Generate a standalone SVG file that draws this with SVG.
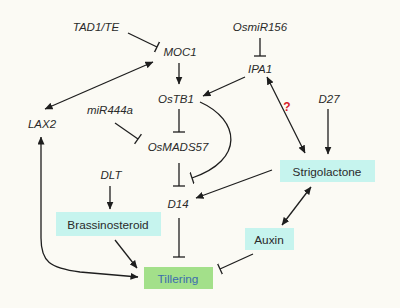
<svg xmlns="http://www.w3.org/2000/svg" width="400" height="308" viewBox="0 0 400 308">
<style>
.lbl{font-family:"Liberation Sans",Arial,sans-serif;font-size:11.5px;font-style:italic;fill:#2a2a2a;text-anchor:middle}
.box{fill:#c6f4ee}
.btxt{font-family:"Liberation Sans",Arial,sans-serif;font-size:11.8px;fill:#2a2a2a;text-anchor:middle}
.c{fill:none;stroke:#1e1e1e;stroke-width:1.3}
.arr{marker-end:url(#ah)}
.dbl{marker-end:url(#ah);marker-start:url(#ah)}
.inh{marker-end:url(#bar)}
</style>
<defs>
<marker id="ah" markerUnits="userSpaceOnUse" markerWidth="8" markerHeight="7" viewBox="0 0 8 7" refX="7.5" refY="3.5" orient="auto-start-reverse">
<path d="M0,0 L8,3.5 L0,7 z" fill="#1e1e1e"/>
</marker>
<marker id="bar" markerUnits="userSpaceOnUse" markerWidth="3" markerHeight="12" viewBox="0 0 3 12" refX="1.5" refY="6" orient="auto">
<path d="M1.5,0 L1.5,12" stroke="#1e1e1e" stroke-width="1.3"/>
</marker>
</defs>
<rect width="400" height="308" fill="#fbfaf4"/>
<g id="connectors">
<path class="c inh" d="M128,33 L157,47"/>
<path class="c arr" d="M179,63 L179,84"/>
<path class="c dbl" d="M153,62 L45,109"/>
<path class="c inh" d="M260,38 L260,56"/>
<path class="c arr" d="M245,77 L203,96"/>
<path class="c dbl" d="M267,77 L305,153"/>
<path class="c arr" d="M328,109 L328,154"/>
<path class="c inh" d="M179,109 L179,132"/>
<path class="c inh" d="M115,123 L138,139"/>
<path class="c inh" d="M200,102 C240,120 245,160 192,178"/>
<path class="c inh" d="M179,163 L179,186"/>
<path class="c arr" d="M272,170 L196,198"/>
<path class="c inh" d="M179,218 L179,257"/>
<path class="c arr" d="M110,186 L110,209"/>
<path class="c arr" d="M115,240 L137,268"/>
<path class="c dbl" d="M41,137 L41,238 C41,262 50,268 80,272 L138,277"/>
<path class="c dbl" d="M311,187 L282,225"/>
<path class="c inh" d="M253,254 L220,269"/>
<text x="287" y="111" font-family="Liberation Sans,Arial,sans-serif" font-size="12" font-weight="bold" fill="#d8202a" text-anchor="middle">?</text>
</g>
<g id="TAD1TE"><text class="lbl" x="96" y="31">TAD1/TE</text></g>
<g id="MOC1"><text class="lbl" x="180" y="56">MOC1</text></g>
<g id="OsmiR156"><text class="lbl" x="260" y="31">OsmiR156</text></g>
<g id="IPA1"><text class="lbl" x="260" y="73">IPA1</text></g>
<g id="OsTB1"><text class="lbl" x="176" y="103">OsTB1</text></g>
<g id="miR444a"><text class="lbl" x="110" y="114">miR444a</text></g>
<g id="LAX2"><text class="lbl" x="42" y="128">LAX2</text></g>
<g id="D27"><text class="lbl" x="329" y="103">D27</text></g>
<g id="OsMADS57"><text class="lbl" x="178" y="151">OsMADS57</text></g>
<g id="D14"><text class="lbl" x="178" y="208">D14</text></g>
<g id="DLT"><text class="lbl" x="111" y="179">DLT</text></g>
<g id="Strigolactone"><rect class="box" x="280" y="160" width="95" height="22"/><text class="btxt" x="327" y="175.5">Strigolactone</text></g>
<g id="Brassinosteroid"><rect class="box" x="56" y="212" width="105" height="24"/><text class="btxt" x="108" y="228.5">Brassinosteroid</text></g>
<g id="Auxin"><rect class="box" x="245" y="228" width="49" height="22"/><text class="btxt" x="269" y="243.5">Auxin</text></g>
<g id="Tillering"><rect x="144" y="267" width="69" height="22" fill="#a3e08a"/><text class="btxt" x="178" y="282.5" style="fill:#3b6cae">Tillering</text></g>
</svg>
